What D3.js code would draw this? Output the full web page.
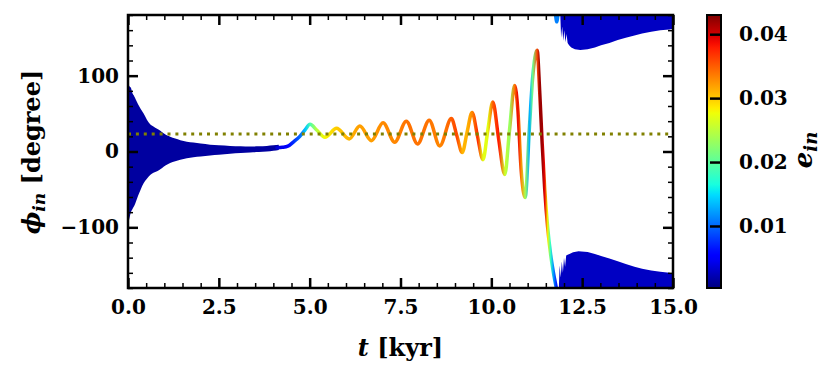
<!DOCTYPE html>
<html>
<head>
<meta charset="utf-8">
<script src="https://cdn.jsdelivr.net/npm/d3@7"></script>
<style>
body { margin: 0; background: #fff; }
text { font-family: "DejaVu Serif", serif; font-weight: bold; fill: #000; }
</style>
</head>
<body>
<div id="chart"></div>
<script>
// ---------------------------------------------------------------------------------
// data (t in kyr, phi in degree, e dimensionless)

// fast libration at the start: only its envelope is visible
var bandT  = [0.00, 0.04, 0.08, 0.12, 0.17, 0.22, 0.28, 0.35, 0.43, 0.52, 0.61, 0.70, 0.80, 0.90, 0.98,
              1.08, 1.16, 1.30, 1.44, 1.62, 1.80, 2.00, 2.26, 2.50, 2.81, 3.10, 3.36, 3.60, 3.82, 4.00, 4.15];
var bandHi = [90, 86, 84, 77, 73, 68, 62, 56, 50, 42, 36, 33, 30, 27, 24,
              21, 19.5, 17, 15, 13, 11.8, 10.5, 9, 8.2, 7.4, 7, 6.6, 6.8, 7.4, 8.2, 8.8];
var bandLo = [-96, -88, -80, -76, -72, -66, -58, -50, -42, -36, -31, -28, -26, -23, -20,
              -17, -15, -13, -11, -9, -7.5, -6.5, -5.2, -4.2, -3, -2, -1.3, -0.8, 0, 1, 2];
var bandE  = 0.0015;

// growing oscillation, coloured by e_in
var curveT   = [4.10, 4.25, 4.40, 4.55, 4.73, 4.88, 5.01, 5.20, 5.42, 5.74, 6.09, 6.38, 6.70, 7.02, 7.34,
                7.66, 7.97, 8.29, 8.58, 8.90, 9.05, 9.20, 9.33, 9.47, 9.62, 9.77, 9.90, 10.04, 10.20,
                10.37, 10.50, 10.64, 10.73, 10.82, 10.93, 11.05, 11.14, 11.26, 11.33, 11.40, 11.47,
                11.55, 11.63, 11.71, 11.79];
var curvePhi = [5.0, 5.5, 7.0, 12.5, 20, 29, 36, 28, 18.8, 30.5, 16.6, 33.5, 14.3, 37.8, 12.3,
                40, 10, 41.3, 7.4, 43.5, 21, -1.3, 25, 51.4, 20, -10.8, 27, 65.2, 17,
                -30.4, 28, 87, 55, -24, -60.8, 33, 99, 133.5, 80, 10, -50,
                -100, -135, -160, -180];
var curveE   = [0.0035, 0.0045, 0.0055, 0.0075, 0.010, 0.014, 0.019, 0.025, 0.028, 0.030, 0.031, 0.032, 0.032, 0.033, 0.033,
                0.034, 0.034, 0.034, 0.033, 0.035, 0.036, 0.031, 0.031, 0.033, 0.037, 0.027, 0.027, 0.035, 0.038,
                0.026, 0.023, 0.034, 0.039, 0.033, 0.024, 0.013, 0.021, 0.036, 0.042, 0.042, 0.039,
                0.028, 0.018, 0.012, 0.007];

// the curve wraps from -180 to +180
var wrapT   = [11.77, 11.80, 11.83];
var wrapPhi = [180, 171, 180];
var wrapE   = 0.011;

// circulating part after the flip: band hanging from +180 and band standing on -180
var topT  = [11.90, 11.92, 11.95, 11.98, 12.01, 12.04, 12.07, 12.10, 12.14, 12.20, 12.30, 12.45, 12.65, 12.85,
             13.02, 13.25, 13.48, 13.70, 13.94, 14.15, 14.40, 14.65, 14.90, 15.00];
var topLo = [178, 150, 165, 146, 160, 144, 155, 143, 140, 137, 135, 134, 135, 137,
             140, 143, 147, 150, 153, 155.5, 158, 160, 161, 162];
var botT  = [11.86, 11.88, 11.91, 11.94, 11.97, 12.00, 12.03, 12.06, 12.10, 12.15, 12.25, 12.40, 12.65, 12.85,
             13.02, 13.25, 13.48, 13.70, 13.94, 14.15, 14.40, 14.65, 14.90, 15.00];
var botHi = [-178, -150, -166, -145, -160, -140, -152, -137, -136, -135, -133, -131.5, -132.5, -135,
             -137.7, -141, -144.7, -148.5, -152, -154.5, -157, -158.5, -160, -161];
var circE = 0.0028;

var refPhi = 23;   // dotted reference line

// ticks
var xMajor = [0, 2.5, 5, 7.5, 10, 12.5, 15];
var yMajor = [-100, 0, 100];
var cbTicks = [0.01, 0.02, 0.03, 0.04];
var eDomain = [0.0003, 0.043];

// ---------------------------------------------------------------------------------
const chart_width = 830, chart_height = 372;
const p_left = 128, p_right = 673, p_top = 15, p_bottom = 288;
const cb_left = 707, cb_width = 14;

var svg = d3.select("#chart")
	.append("svg")
	.attr("width", chart_width)
	.attr("height", chart_height);

const x_scale = d3.scaleLinear().domain([0, 15]).range([p_left, p_right]);
const y_scale = d3.scaleLinear().domain([-180, 180]).range([p_bottom, p_top]);
const e_scale = d3.scaleLinear().domain(eDomain).range([p_bottom, p_top]);

// matplotlib "jet"
const jetR = d3.scaleLinear().domain([0, 0.35, 0.66, 0.89, 1]).range([0, 0, 1, 1, 0.5]).clamp(true);
const jetG = d3.scaleLinear().domain([0, 0.125, 0.375, 0.64, 0.91, 1]).range([0, 0, 1, 1, 0, 0]).clamp(true);
const jetB = d3.scaleLinear().domain([0, 0.11, 0.34, 0.65, 1]).range([0.5, 1, 1, 0, 0]).clamp(true);
const e_norm = d3.scaleLinear().domain(eDomain).range([0, 1]).clamp(true);
function jetFrac(f) {
	return d3.rgb(jetR(f) * 255, jetG(f) * 255, jetB(f) * 255).formatHex();
}
function jet(e) { return jetFrac(e_norm(e)); }

var defs = svg.append("defs");
defs.append("clipPath").attr("id", "plotclip")
	.append("rect")
	.attr("x", p_left).attr("y", p_top)
	.attr("width", p_right - p_left).attr("height", p_bottom - p_top);

var plot = svg.append("g").attr("clip-path", "url(#plotclip)");

// ---------------------------------------------------------------------------------
// bands
var band_area = d3.area()
	.x(d => x_scale(d[0]))
	.y0(d => y_scale(d[2]))
	.y1(d => y_scale(d[1]))
	.curve(d3.curveMonotoneX);

plot.append("path")
	.datum(bandT.map((t, i) => [t, bandHi[i], bandLo[i]]))
	.attr("d", band_area)
	.attr("fill", jet(bandE));

var lin_area = d3.area()
	.x(d => x_scale(d[0]))
	.y0(d => y_scale(d[2]))
	.y1(d => y_scale(d[1]));

plot.append("path")
	.datum(topT.map((t, i) => [t, 180, topLo[i]]))
	.attr("d", lin_area)
	.attr("fill", jet(circE));

plot.append("path")
	.datum(botT.map((t, i) => [t, botHi[i], -180]))
	.attr("d", lin_area)
	.attr("fill", jet(circE));

// ---------------------------------------------------------------------------------
// the coloured curve: one path, stroke gradient along t
var gx0 = x_scale(curveT[0]), gx1 = x_scale(curveT[curveT.length - 1]);
var grad = defs.append("linearGradient")
	.attr("id", "curvegrad")
	.attr("gradientUnits", "userSpaceOnUse")
	.attr("x1", gx0).attr("x2", gx1)
	.attr("y1", 0).attr("y2", 0);
grad.selectAll("stop")
	.data(curveT)
	.enter()
	.append("stop")
	.attr("offset", t => (x_scale(t) - gx0) / (gx1 - gx0))
	.attr("stop-color", (t, i) => jet(curveE[i]));

var line = d3.line()
	.x(d => x_scale(d[0]))
	.y(d => y_scale(d[1]))
	.curve(d3.curveMonotoneX);

plot.append("path")
	.datum(curveT.map((t, i) => [t, curvePhi[i]]))
	.attr("d", line)
	.attr("fill", "none")
	.attr("stroke", "url(#curvegrad)")
	.attr("stroke-width", 3.5)
	.attr("stroke-linecap", "round");

plot.append("path")
	.datum(wrapT.map((t, i) => [t, wrapPhi[i]]))
	.attr("d", line)
	.attr("fill", "none")
	.attr("stroke", jet(wrapE))
	.attr("stroke-width", 3.5)
	.attr("stroke-linecap", "round");

// dotted reference line
plot.append("line")
	.attr("x1", p_left).attr("x2", p_right)
	.attr("y1", y_scale(refPhi)).attr("y2", y_scale(refPhi))
	.attr("stroke", "#808000")
	.attr("stroke-width", 3)
	.attr("stroke-dasharray", "3,4.9");

// ---------------------------------------------------------------------------------
// axes, ticks inward on all four sides
var xMinor = d3.range(0, 15.001, 0.5).filter(v => xMajor.indexOf(v) < 0);
var yMinor = d3.range(-180, 180.001, 20).filter(v => yMajor.indexOf(v) < 0);
var fmtY = d => (d < 0 ? "\u2212" + Math.abs(d) : "" + d);

function styleAxis(g, w) {
	g.select(".domain").remove();
	g.selectAll(".tick line").attr("stroke", "#000").attr("stroke-width", w);
	g.selectAll("text").style("font-size", "20px").style("font-family", "DejaVu Serif").style("font-weight", "bold");
}

svg.append("g").attr("transform", `translate(0,${p_bottom})`)
	.call(d3.axisBottom(x_scale).tickValues(xMajor).tickSize(-10).tickPadding(12).tickFormat(d3.format(".1f")))
	.call(g => styleAxis(g, 2.5));
svg.append("g").attr("transform", `translate(0,${p_bottom})`)
	.call(d3.axisBottom(x_scale).tickValues(xMinor).tickSize(-5).tickFormat(""))
	.call(g => styleAxis(g, 1.5));
svg.append("g").attr("transform", `translate(0,${p_top})`)
	.call(d3.axisTop(x_scale).tickValues(xMajor).tickSize(-10).tickFormat(""))
	.call(g => styleAxis(g, 2.5));
svg.append("g").attr("transform", `translate(0,${p_top})`)
	.call(d3.axisTop(x_scale).tickValues(xMinor).tickSize(-5).tickFormat(""))
	.call(g => styleAxis(g, 1.5));

svg.append("g").attr("transform", `translate(${p_left},0)`)
	.call(d3.axisLeft(y_scale).tickValues(yMajor).tickSize(-10).tickPadding(9).tickFormat(fmtY))
	.call(g => styleAxis(g, 2.5));
svg.append("g").attr("transform", `translate(${p_left},0)`)
	.call(d3.axisLeft(y_scale).tickValues(yMinor).tickSize(-5).tickFormat(""))
	.call(g => styleAxis(g, 1.5));
svg.append("g").attr("transform", `translate(${p_right},0)`)
	.call(d3.axisRight(y_scale).tickValues(yMajor).tickSize(-10).tickFormat(""))
	.call(g => styleAxis(g, 2.5));
svg.append("g").attr("transform", `translate(${p_right},0)`)
	.call(d3.axisRight(y_scale).tickValues(yMinor).tickSize(-5).tickFormat(""))
	.call(g => styleAxis(g, 1.5));

// frame
svg.append("rect")
	.attr("x", p_left).attr("y", p_top)
	.attr("width", p_right - p_left).attr("height", p_bottom - p_top)
	.attr("fill", "none")
	.attr("stroke", "#000")
	.attr("stroke-width", 2.5);

// axis titles
var xt = svg.append("text")
	.attr("x", (p_left + p_right) / 2).attr("y", 356)
	.attr("text-anchor", "middle")
	.style("font-size", "24px");
xt.append("tspan").style("font-style", "italic").text("t");
xt.append("tspan").text(" [kyr]");

var yt = svg.append("text")
	.attr("transform", "translate(40,152) rotate(-90)")
	.attr("text-anchor", "middle")
	.style("font-size", "24px");
yt.append("tspan").style("font-style", "italic").text("\u03d5");
yt.append("tspan").style("font-style", "italic").style("font-size", "17px").attr("dy", "5").text("in");
yt.append("tspan").attr("dy", "-5").text(" [degree]");

// ---------------------------------------------------------------------------------
// colorbar
var cbgrad = defs.append("linearGradient")
	.attr("id", "cbgrad")
	.attr("x1", 0).attr("x2", 0).attr("y1", 1).attr("y2", 0);
cbgrad.selectAll("stop")
	.data(d3.range(0, 1.0001, 0.02))
	.enter()
	.append("stop")
	.attr("offset", f => f)
	.attr("stop-color", f => jetFrac(f));

svg.append("rect")
	.attr("x", cb_left).attr("y", p_top)
	.attr("width", cb_width).attr("height", p_bottom - p_top)
	.attr("fill", "url(#cbgrad)");

svg.append("g").attr("transform", `translate(${cb_left + cb_width},0)`)
	.call(d3.axisRight(e_scale).tickValues(cbTicks).tickSize(-11).tickPadding(18).tickFormat(d3.format(".2f")))
	.call(g => styleAxis(g, 2.5));

svg.append("rect")
	.attr("x", cb_left).attr("y", p_top)
	.attr("width", cb_width).attr("height", p_bottom - p_top)
	.attr("fill", "none")
	.attr("stroke", "#000")
	.attr("stroke-width", 2);

var ct = svg.append("text")
	.attr("transform", "translate(812,150) rotate(-90)")
	.attr("text-anchor", "middle")
	.style("font-size", "26px");
ct.append("tspan").style("font-style", "italic").text("e");
ct.append("tspan").style("font-style", "italic").style("font-size", "18px").attr("dy", "5").text("in");
</script>
</body>
</html>
